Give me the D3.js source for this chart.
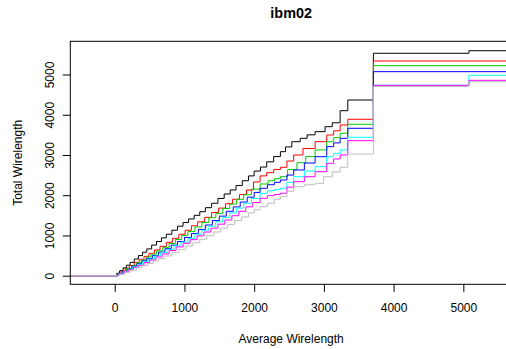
<!DOCTYPE html>
<html>
<head>
<meta charset="utf-8">
<script src="https://cdn.jsdelivr.net/npm/d3@7"></script>
<style>
  body { margin: 0; background: #fff; }
  svg { display: block; font-family: "Liberation Sans", Arial, sans-serif; }
</style>
</head>
<body>
<figure id="chart" style="margin:0"></figure>
<script>
// step data: [average wirelength, total wirelength]
const black = [[0,0],[30,60],[70,125],[120,195],[170,260],[220,330],[280,415],[340,500],[400,585],[460,665],[530,760],[600,850],[670,940],[740,1030],[820,1130],[900,1230],[980,1320],[1060,1410],[1140,1500],[1220,1590],[1300,1690],[1390,1800],[1480,1920],[1570,2030],[1656,2130],[1740,2240],[1830,2360],[1920,2480],[2000,2600],[2090,2700],[2180,2830],[2280,2960],[2376,3082],[2450,3200],[2540,3330],[2660,3414],[2760,3500],[2874,3579],[3017,3703],[3120,3800],[3233,4100],[3343,4366],[3710,5527],[5080,5591]];
const red = [[0,0],[40,55],[90,115],[150,185],[210,255],[280,330],[350,405],[420,480],[490,555],[570,640],[650,730],[740,830],[830,930],[920,1030],[1010,1130],[1100,1240],[1190,1340],[1290,1450],[1390,1570],[1490,1680],[1590,1790],[1690,1900],[1790,2020],[1890,2130],[1990,2330],[2085,2480],[2180,2560],[2280,2640],[2376,2694],[2470,2850],[2567,3000],[2700,3160],[2874,3330],[3041,3497],[3140,3600],[3233,3745],[3343,3887],[3710,5336]];
const green = [[0,0],[45,50],[100,105],[170,180],[240,250],[310,320],[380,390],[450,465],[520,535],[600,615],[690,705],[780,800],[870,900],[960,1000],[1050,1100],[1150,1210],[1250,1320],[1350,1440],[1450,1550],[1550,1670],[1650,1780],[1750,1900],[1850,2010],[1960,2150],[2085,2280],[2200,2360],[2290,2410],[2376,2460],[2480,2640],[2615,2808],[2740,2960],[2874,3124],[3041,3330],[3140,3430],[3233,3539],[3343,3762],[3710,5219]];
const blue = [[0,0],[50,45],[110,100],[180,165],[250,235],[320,300],[390,365],[460,430],[540,500],[630,585],[720,670],[810,760],[900,850],[1000,950],[1100,1050],[1200,1150],[1300,1260],[1400,1370],[1500,1480],[1600,1600],[1700,1710],[1800,1830],[1900,1950],[2000,2070],[2085,2172],[2190,2260],[2290,2320],[2376,2378],[2470,2500],[2567,2627],[2720,2800],[2874,2957],[3041,3206],[3140,3300],[3233,3414],[3343,3663],[3710,5070]];
const cyan = [[0,0],[55,45],[120,100],[190,160],[260,220],[330,285],[400,345],[480,410],[570,490],[660,570],[750,650],[850,740],[950,835],[1050,930],[1150,1030],[1250,1130],[1350,1230],[1450,1340],[1550,1450],[1650,1560],[1750,1680],[1850,1800],[1960,1920],[2085,2048],[2190,2110],[2290,2140],[2376,2172],[2470,2320],[2567,2460],[2720,2600],[2874,2709],[3041,2957],[3140,3040],[3233,3124],[3343,3439],[3710,4731],[5080,4980]];
const magenta = [[0,0],[60,45],[130,95],[200,150],[270,205],[340,260],[420,325],[500,390],[590,465],[680,540],[780,625],[880,715],[980,805],[1080,895],[1180,990],[1280,1085],[1380,1180],[1480,1280],[1580,1385],[1680,1490],[1780,1600],[1880,1710],[1980,1820],[2085,1923],[2190,1990],[2290,2020],[2376,2048],[2470,2200],[2567,2336],[2720,2460],[2874,2585],[3041,2793],[3140,2900],[3233,3000],[3343,3355],[3710,4731],[5080,4855]];
const gray = [[0,0],[70,40],[150,90],[230,140],[310,195],[390,250],[470,305],[550,365],[630,425],[720,490],[820,570],[920,650],[1020,735],[1120,820],[1220,905],[1320,995],[1420,1085],[1520,1180],[1620,1270],[1720,1370],[1820,1460],[1920,1560],[2000,1640],[2085,1716],[2190,1800],[2290,1900],[2376,1963],[2470,2100],[2567,2212],[2720,2260],[2874,2296],[2994,2460],[3120,2580],[3233,2694],[3343,3024],[3710,4700],[5080,4820]];

const seriesList = [black, red, green, blue, cyan, magenta, gray];
const seriesColors = ['#000000', '#ff0000', '#00cd00', '#0000ff', '#00ffff', '#ff00ff', '#bebebe'];
const xTicks = [0, 1000, 2000, 3000, 4000, 5000];
const yTicks = [0, 1000, 2000, 3000, 4000, 5000];

const width = 506;
const height = 349;
const plot = {left: 70.3, right: 512, top: 41.3, bottom: 284.3};

const x = d3.scaleLinear().domain([-637, 5698]).range([plot.left, plot.right]);
const y = d3.scaleLinear().domain([-214, 5825]).range([plot.bottom, plot.top]);

const svg = d3.select('figure#chart')
  .append('svg')
  .attr('width', width)
  .attr('height', height)
  .attr('viewBox', `0 0 ${width} ${height}`);

svg.append('clipPath')
  .attr('id', 'plot-clip')
  .append('rect')
  .attr('x', plot.left)
  .attr('y', plot.top)
  .attr('width', plot.right - plot.left)
  .attr('height', plot.bottom - plot.top);

const line = d3.line()
  .x(d => x(d[0]))
  .y(d => y(d[1]))
  .curve(d3.curveStepAfter);

const lines = svg.append('g').attr('clip-path', 'url(#plot-clip)');

seriesList.forEach((s, i) => {
  // every run starts flat at zero from the left edge and holds its last value to the right edge
  const pts = [[x.domain()[0], 0], ...s, [x.domain()[1], s[s.length - 1][1]]];
  lines.append('path')
    .datum(pts)
    .attr('d', line)
    .attr('fill', 'none')
    .attr('stroke', seriesColors[i])
    .attr('stroke-width', 1);
});

// box
svg.append('rect')
  .attr('x', plot.left)
  .attr('y', plot.top)
  .attr('width', plot.right - plot.left)
  .attr('height', plot.bottom - plot.top)
  .attr('fill', 'none')
  .attr('stroke', '#000')
  .attr('stroke-width', 1);

const xAxis = svg.append('g')
  .attr('transform', `translate(0,${plot.bottom})`)
  .call(d3.axisBottom(x).tickValues(xTicks).tickSize(7.5).tickPadding(17).tickFormat(d3.format('d')));

const yAxis = svg.append('g')
  .attr('transform', `translate(${plot.left},0)`)
  .call(d3.axisLeft(y).tickValues(yTicks).tickSize(7.5).tickFormat(d3.format('d')));

[xAxis, yAxis].forEach(a => {
  a.select('.domain').remove();
  a.selectAll('line').attr('stroke', '#000');
  a.selectAll('text')
    .attr('fill', '#000')
    .attr('font-size', 12)
    .attr('font-family', '"Liberation Sans", Arial, sans-serif');
});

xAxis.selectAll('text').attr('dy', null).attr('y', 28);

// y tick labels sit parallel to the axis, as R draws them
yAxis.selectAll('text')
  .attr('x', null)
  .attr('dy', null)
  .attr('text-anchor', 'middle')
  .attr('transform', `translate(${53.7 - plot.left},0) rotate(-90)`);

svg.append('text')
  .attr('x', (plot.left + plot.right) / 2)
  .attr('y', 17.5)
  .attr('text-anchor', 'middle')
  .attr('font-size', 14.4)
  .attr('font-weight', 'bold')
  .text('ibm02');

svg.append('text')
  .attr('x', (plot.left + plot.right) / 2)
  .attr('y', 343)
  .attr('text-anchor', 'middle')
  .attr('font-size', 12)
  .text('Average Wirelength');

svg.append('text')
  .attr('transform', `translate(22,${(plot.top + plot.bottom) / 2}) rotate(-90)`)
  .attr('text-anchor', 'middle')
  .attr('font-size', 12)
  .text('Total Wirelength');
</script>
</body>
</html>
